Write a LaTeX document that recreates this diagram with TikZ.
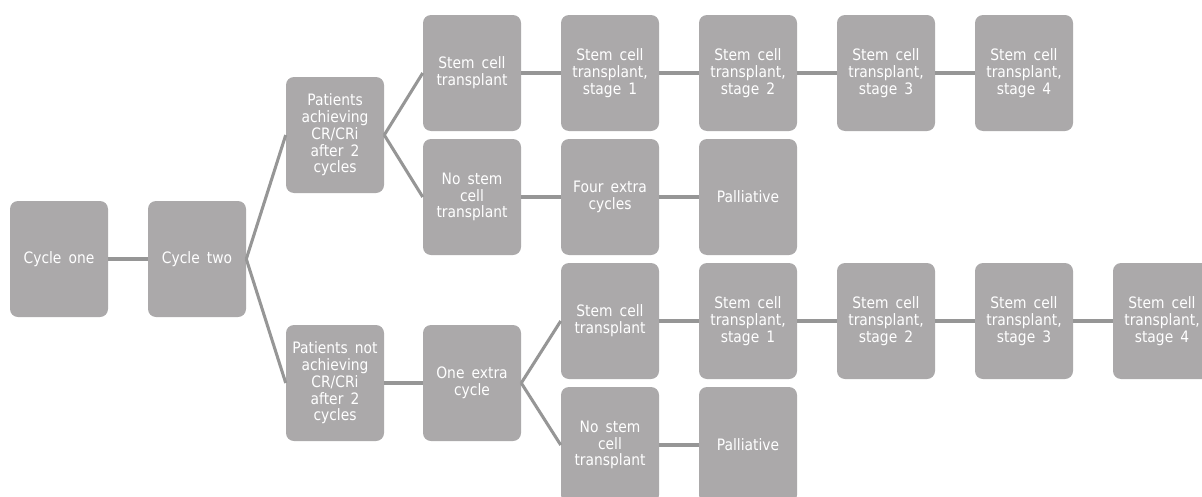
\documentclass[tikz,border=0pt]{standalone}
\usepackage{fontspec}
\setmainfont{DejaVu Sans}[FakeStretch=0.88]
\usetikzlibrary{positioning}
\definecolor{boxgray}{RGB}{171,169,170}
\definecolor{linkgray}{RGB}{150,150,150}
\tikzset{
  box/.style={rectangle,rounded corners=6pt,fill=boxgray,text=white,
    minimum width=73.5pt,minimum height=87pt,align=center,inner sep=1pt,
    font=\fontsize{11.8}{12.6}\selectfont,
    execute at begin node={\spaceskip=0.45em\relax}},
  link/.style={draw=linkgray,line width=2.3pt}
}

\begin{document}
\begin{tikzpicture}[x=0.75pt,y=-0.75pt]
  \useasboundingbox (0,0) rectangle (1202,496);
  \clip (0,0) rectangle (1202,496);
  % first two cycles
  \node[box] (c1) at (59,259) {Cycle one};
  \node[box] (c2) at (197,259) {Cycle two};
  % responders
  \node[box] (pa) at (335,135) {Patients\\achieving\\CR/CRi\\after 2\\cycles};
  \node[box] (sa) at (472,73) {Stem cell\\transplant};
  \node[box] (na) at (472,197) {No stem\\cell\\transplant};
  \node[box] (xa) at (610,197) {Four extra\\cycles};
  \node[box] (pla) at (748,197) {Palliative};
  \foreach \i in {1,...,4}
    \node[box] (ta\i) at ({610+138*(\i-1)},73) {Stem cell\\transplant,\\stage \i};
  % non-responders
  \node[box] (pn) at (335,383) {Patients not\\achieving\\CR/CRi\\after 2\\cycles};
  \node[box] (oe) at (472,383) {One extra\\cycle};
  \node[box] (sb) at (610,321) {Stem cell\\transplant};
  \node[box] (nb) at (610,445) {No stem\\cell\\transplant};
  \node[box] (plb) at (748,445) {Palliative};
  \foreach \i in {1,...,4}
    \node[box] (tb\i) at ({748+138*(\i-1)},321) {Stem cell\\transplant,\\stage \i};
  % connectors
  \draw[link] (c1.east) -- (c2.west);
  \draw[link] (c2.east) -- (pa.west);
  \draw[link] (c2.east) -- (pn.west);
  \draw[link] (pa.east) -- (sa.west);
  \draw[link] (pa.east) -- (na.west);
  \draw[link] (sa.east) -- (ta1.west);
  \draw[link] (na.east) -- (xa.west);
  \draw[link] (xa.east) -- (pla.west);
  \draw[link] (pn.east) -- (oe.west);
  \draw[link] (oe.east) -- (sb.west);
  \draw[link] (oe.east) -- (nb.west);
  \draw[link] (sb.east) -- (tb1.west);
  \draw[link] (nb.east) -- (plb.west);
  \foreach \i/\j in {1/2,2/3,3/4}{
    \draw[link] (ta\i.east) -- (ta\j.west);
    \draw[link] (tb\i.east) -- (tb\j.west);
  }
\end{tikzpicture}
\end{document}
